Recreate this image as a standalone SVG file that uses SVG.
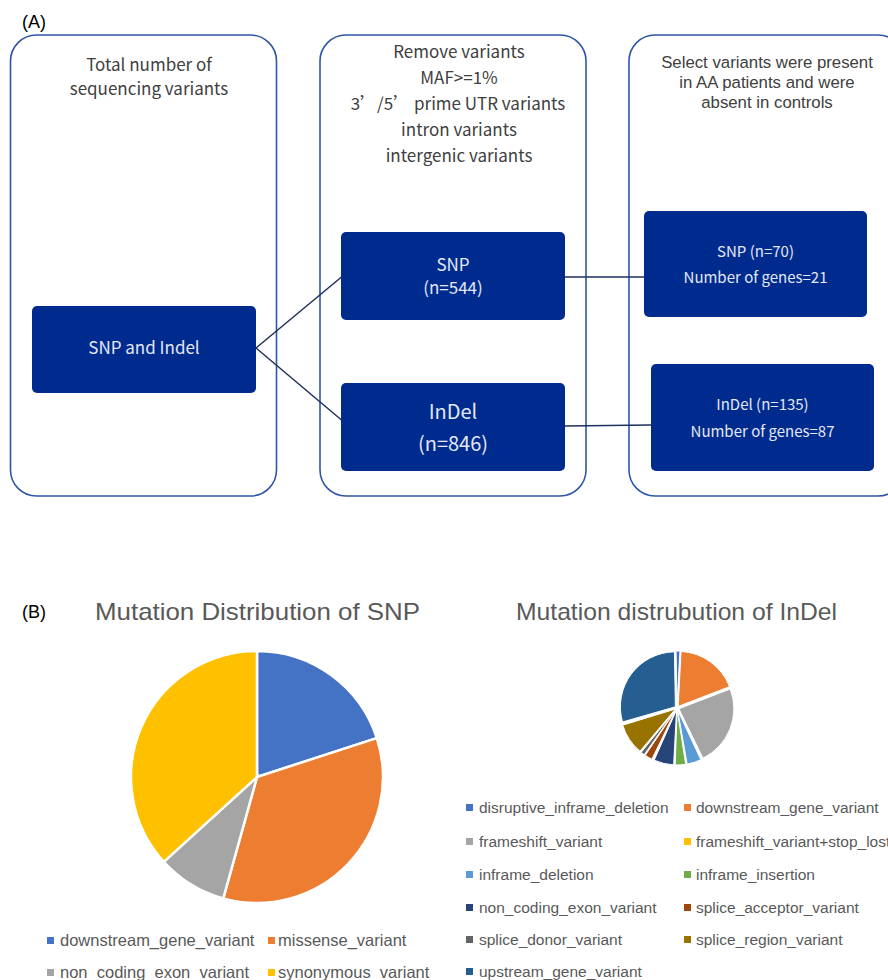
<svg xmlns="http://www.w3.org/2000/svg" width="888" height="980" viewBox="0 0 888 980">
<style>
.panel{fill:#fff;stroke:#2F56A6;stroke-width:1.6}
.node{fill:#002B8E}
.t{font-family:"Noto Sans CJK KR","Noto Sans",sans-serif;fill:#404040;text-anchor:middle}
.t2{font-family:"Liberation Sans",Arial,sans-serif;fill:#404040;text-anchor:middle;font-size:16.8px}
.w{font-family:"Noto Sans CJK KR","Noto Sans",sans-serif;fill:#E3E8F4;text-anchor:middle}
.lbl{font-family:"Liberation Sans",Arial,sans-serif;fill:#000;font-size:18px}
.title{font-family:"Liberation Sans",Arial,sans-serif;fill:#595959;font-size:24px;text-anchor:middle}
.leg{font-family:"Liberation Sans",Arial,sans-serif;fill:#595959;font-size:16.5px}
.leg2{font-family:"Liberation Sans",Arial,sans-serif;fill:#595959;font-size:15.5px}
.conn{stroke:#1F2F5E;stroke-width:1.5;fill:none}
.sl{stroke:#fff;stroke-width:2.5}
.sl2{stroke:#fff;stroke-width:1}
</style>
<rect width="888" height="980" fill="#fff"/>
<text class="lbl" x="22" y="28">(A)</text>
<g id="panel-total">
<rect class="panel" x="10.5" y="35" width="266" height="461" rx="26"/>
<text class="t" font-size="17" x="149" y="71">Total number of</text>
<text class="t" font-size="17" x="149" y="95">sequencing variants</text>
</g>
<g id="panel-remove">
<rect class="panel" x="320" y="35" width="266" height="461" rx="26"/>
<text class="t" font-size="17" x="459" y="58">Remove variants</text>
<text class="t" font-size="17" x="459" y="84">MAF&gt;=1%</text>
<text font-family="'Noto Sans CJK SC','Noto Sans',sans-serif" fill="#404040" text-anchor="middle" font-size="17" x="458" y="110">3’/5’ prime UTR variants</text>
<text class="t" font-size="17" x="459" y="136">intron variants</text>
<text class="t" font-size="17" x="459" y="162">intergenic variants</text>
</g>
<g id="panel-select">
<rect class="panel" x="629" y="35" width="275" height="461" rx="26"/>
<text class="t2" x="767" y="68">Select variants were present</text>
<text class="t2" x="767" y="88">in AA patients and were</text>
<text class="t2" x="767" y="107.5">absent in controls</text>
</g>
<g id="connectors">
<line class="conn" x1="256" y1="348" x2="341.5" y2="277"/>
<line class="conn" x1="256" y1="348" x2="341.5" y2="420"/>
<line class="conn" x1="555" y1="277" x2="644" y2="277"/>
<line class="conn" x1="565" y1="426" x2="651" y2="425"/>
</g>
<g id="snp-indel">
<rect class="node" x="32" y="306" width="224" height="87" rx="5"/>
<text class="w" font-size="17" x="144" y="354">SNP and Indel</text>
</g>
<g id="snp-544">
<rect class="node" x="341" y="232" width="224" height="88" rx="5"/>
<text class="w" font-size="17" x="453" y="271">SNP</text>
<text class="w" font-size="17" x="453" y="294">(n=544)</text>
</g>
<g id="indel-846">
<rect class="node" x="341" y="383" width="224" height="88" rx="5"/>
<text class="w" font-size="20" x="453" y="419">InDel</text>
<text class="w" font-size="20" x="453" y="451">(n=846)</text>
</g>
<g id="snp-70">
<rect class="node" x="644" y="211" width="223" height="106" rx="5"/>
<text class="w" font-size="15" x="755.5" y="257">SNP (n=70)</text>
<text class="w" font-size="15" x="755.5" y="283">Number of genes=21</text>
</g>
<g id="indel-135">
<rect class="node" x="651" y="364" width="223" height="107" rx="5"/>
<text class="w" font-size="15" x="762.5" y="410">InDel (n=135)</text>
<text class="w" font-size="15" x="762.5" y="437">Number of genes=87</text>
</g>
<text class="lbl" x="22" y="618">(B)</text>
<g id="snp-pie">
<text class="title" x="257.5" y="620" textLength="325" lengthAdjust="spacingAndGlyphs">Mutation Distribution of SNP</text>
<path class="sl" fill="#4472C4" d="M257,777 L257,651 A126,126 0 0,1 376.8,738.1 Z"/>
<path class="sl" fill="#ED7D31" d="M257,777 L376.8,738.1 A126,126 0 0,1 223.3,898.4 Z"/>
<path class="sl" fill="#A5A5A5" d="M257,777 L223.3,898.4 A126,126 0 0,1 163.8,861.8 Z"/>
<path class="sl" fill="#FFC000" d="M257,777 L163.8,861.8 A126,126 0 0,1 257,651 Z"/>
<rect x="47" y="937" width="7" height="7" fill="#4472C4"/>
<text class="leg" x="60" y="946">downstream_gene_variant</text>
<rect x="268" y="937" width="7" height="7" fill="#ED7D31"/>
<text class="leg" x="278" y="946">missense_variant</text>
<rect x="47" y="969" width="7" height="7" fill="#A5A5A5"/>
<text class="leg" x="60" y="978">non_coding_exon_variant</text>
<rect x="268" y="969" width="7" height="7" fill="#FFC000"/>
<text class="leg" x="278" y="978">synonymous_variant</text>
</g>
<g id="indel-pie">
<text class="title" x="676.5" y="620" textLength="321" lengthAdjust="spacingAndGlyphs">Mutation distrubution of InDel</text>
<path class="sl2" fill="#4472C4" d="M677.03,706 L676.07,651.01 A55,55 0 0,1 679.91,651.08 Z"/>
<path class="sl2" fill="#ED7D31" d="M678.18,706.38 L681.06,651.46 A55,55 0 0,1 729.53,686.67 Z"/>
<path class="sl2" fill="#A5A5A5" d="M678.86,708.73 L730.21,689.02 A55,55 0 0,1 702.97,758.16 Z"/>
<path class="sl2" fill="#5B9BD5" d="M677.6,709.91 L700.84,759.76 A55,55 0 0,1 687.15,764.07 Z"/>
<path class="sl2" fill="#70AD47" d="M677.12,710 L685.72,764.32 A55,55 0 0,1 675.2,764.97 Z"/>
<path class="sl2" fill="#264478" d="M676.53,709.94 L673.65,764.86 A55,55 0 0,1 654.16,760.18 Z"/>
<path class="sl2" fill="#9E480E" d="M676,709.73 L651.89,759.16 A55,55 0 0,1 645.24,755.33 Z"/>
<path class="sl2" fill="#636363" d="M675.8,709.6 L644.25,754.66 A55,55 0 0,1 641.19,752.34 Z"/>
<path class="sl2" fill="#997300" d="M675.33,709.1 L639.98,751.23 A55,55 0 0,1 622.73,725.18 Z"/>
<path class="sl2" fill="#255E91" d="M675.39,706.81 L622.52,721.97 A55,55 0 0,1 674.43,651.82 Z"/>
<rect x="466" y="804" width="7" height="7" fill="#4472C4"/>
<text class="leg2" x="479" y="813">disruptive_inframe_deletion</text>
<rect x="684" y="804" width="7" height="7" fill="#ED7D31"/>
<text class="leg2" x="696" y="813">downstream_gene_variant</text>
<rect x="466" y="838" width="7" height="7" fill="#A5A5A5"/>
<text class="leg2" x="479" y="847">frameshift_variant</text>
<rect x="684" y="838" width="7" height="7" fill="#FFC000"/>
<text class="leg2" x="696" y="847">frameshift_variant+stop_lost</text>
<rect x="466" y="871" width="7" height="7" fill="#5B9BD5"/>
<text class="leg2" x="479" y="880">inframe_deletion</text>
<rect x="684" y="871" width="7" height="7" fill="#70AD47"/>
<text class="leg2" x="696" y="880">inframe_insertion</text>
<rect x="466" y="904" width="7" height="7" fill="#264478"/>
<text class="leg2" x="479" y="913">non_coding_exon_variant</text>
<rect x="684" y="904" width="7" height="7" fill="#9E480E"/>
<text class="leg2" x="696" y="913">splice_acceptor_variant</text>
<rect x="466" y="936" width="7" height="7" fill="#636363"/>
<text class="leg2" x="479" y="945">splice_donor_variant</text>
<rect x="684" y="936" width="7" height="7" fill="#997300"/>
<text class="leg2" x="696" y="945">splice_region_variant</text>
<rect x="466" y="968" width="7" height="7" fill="#255E91"/>
<text class="leg2" x="479" y="977">upstream_gene_variant</text>
</g>
</svg>
